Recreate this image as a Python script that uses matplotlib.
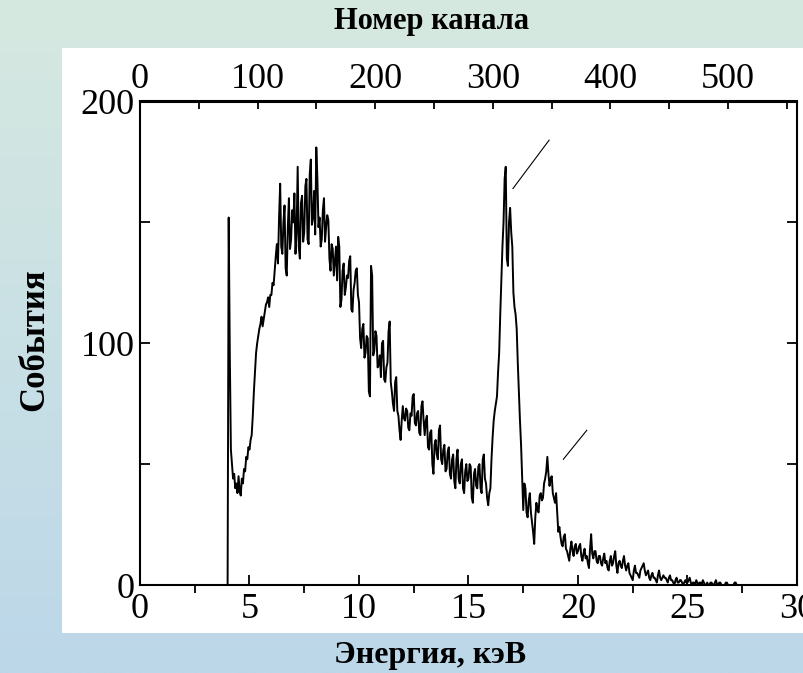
import numpy as np
import matplotlib
matplotlib.use("Agg")
import matplotlib.pyplot as plt
from matplotlib.patches import Rectangle
from matplotlib.ticker import MultipleLocator

# counts, one value every 0.05 keV starting at 4.0 keV
e_start = 4.0
e_step = 0.05
counts = [
    0, 152, 96, 56, 50, 44, 46, 40, 42, 38, 45, 39, 37, 44, 42, 48, 47, 53, 52, 57,                  # 4
    56, 60, 62, 70, 80, 88, 96, 100, 103, 106, 108, 111, 107, 110, 113, 116, 117, 119, 115, 120,     # 5
    120, 125, 124, 130, 136, 141, 133, 152, 166, 140, 137, 150, 157, 131, 128, 148, 160, 139, 143, 155,  # 6
    150, 162, 137, 146, 173, 140, 135, 158, 161, 142, 146, 165, 168, 143, 141, 170, 176, 149, 152, 163,  # 7
    145, 181, 168, 148, 152, 140, 143, 155, 160, 142, 148, 153, 151, 135, 130, 141, 139, 128, 134, 140,  # 8
    126, 144, 140, 115, 118, 130, 133, 120, 123, 128, 127, 134, 136, 114, 113, 122, 125, 130, 131, 120,  # 9
    117, 102, 98, 106, 108, 94, 96, 103, 102, 80, 78, 132, 128, 95, 97, 105, 103, 90, 91, 95,        # 10
    86, 100, 101, 85, 84, 90, 92, 105, 109, 84, 80, 75, 72, 84, 86, 72, 70, 64, 60, 68,              # 11
    74, 69, 68, 73, 72, 65, 64, 71, 70, 78, 79, 67, 66, 71, 72, 63, 62, 74, 76, 68,                  # 12
    62, 68, 70, 57, 56, 63, 64, 50, 46, 58, 60, 54, 52, 64, 66, 52, 50, 56, 58, 47,                  # 13
    48, 55, 57, 46, 44, 52, 54, 43, 40, 52, 56, 44, 42, 50, 52, 40, 38, 47, 50, 43,                  # 14
    44, 50, 49, 36, 34, 46, 48, 41, 40, 49, 50, 40, 38, 52, 54, 44, 42, 36, 33, 38,                  # 15
    40, 52, 61, 68, 72, 75, 78, 88, 96, 112, 126, 140, 150, 168, 173, 135, 132, 150, 156, 146,       # 16
    140, 121, 115, 112, 106, 92, 80, 68, 58, 44, 31, 42, 40, 30, 28, 35, 38, 30, 26, 22,             # 17
    17, 28, 34, 31, 30, 37, 38, 35, 36, 42, 44, 47, 53, 46, 41, 44, 45, 38, 36, 34,                  # 18
    38, 30, 22, 24, 20, 17, 16, 20, 21, 15, 14, 12, 10, 15, 18, 14, 12, 16, 17, 13,                  # 19
    14, 16, 17, 12, 10, 13, 15, 11, 12, 9, 7, 15, 21, 13, 11, 14, 14, 10, 9, 12,                     # 20
    12, 9, 8, 11, 13, 9, 10, 7, 6, 10, 12, 8, 9, 12, 14, 8, 5, 9, 10, 8,                             # 21
    7, 10, 12, 8, 6, 8, 9, 5, 4, 3, 2, 6, 8, 5, 5, 4, 3, 6, 7, 8,                                    # 22
    9, 6, 4, 5, 6, 3, 2, 4, 5, 3, 3, 2, 1, 4, 6, 3, 2, 3, 4, 3,                                      # 23
    3, 2, 1, 3, 4, 2, 2, 1, 0, 2, 3, 1, 1, 2, 2, 1, 0, 1, 2, 1,                                      # 24
    1, 2, 3, 1, 0, 1, 1, 0, 2, 1, 0, 1, 1, 0, 2, 1, 0, 0, 1, 0,                                      # 25
    0, 1, 1, 0, 0, 1, 2, 0, 0, 1, 1, 0, 0, 0, 0, 1, 1, 0, 0, 0,                                      # 26
    0, 0, 0, 1, 1, 0, 0,                                                                             # 27
]
energy = e_start + e_step * np.arange(len(counts))

ch_per_kev = 18.62

# two marker strokes next to the peaks
mark_x = [[17.03, 18.68], [19.33, 20.40]]
mark_y = [[164, 184], [52, 64]]

tick_font = dict(family="Liberation Serif", size=26)

fig = plt.figure(figsize=(8.04, 6.73), dpi=100)

# gradient background + white panel
bg = fig.add_axes([0, 0, 1, 1], zorder=-3)
top_c = np.array([214, 233, 224]) / 255
bot_c = np.array([188, 215, 233]) / 255
t = np.linspace(0, 1, 256)[:, None]
grad = top_c[None, :] * (1 - t) + bot_c[None, :] * t
bg.imshow(grad[:, None, :], aspect="auto", extent=[0, 1, 0, 1])
bg.axis("off")
fig.add_artist(Rectangle((62 / 804, 1 - 633 / 673), (804 - 62) / 804, (633 - 48) / 673,
                         transform=fig.transFigure, facecolor="white",
                         edgecolor="none", zorder=-2))

ax = fig.add_axes([140 / 804, 1 - 585 / 673, 657 / 804, 483.5 / 673])
ax.plot(energy, counts, color="black", lw=1.4)
for xs, ys in zip(mark_x, mark_y):
    ax.plot(xs, ys, color="black", lw=0.8)

ax.set_xlim(0, 30)
ax.set_ylim(0, 200)
for s in ax.spines.values():
    s.set_linewidth(1.5)

ax.xaxis.set_major_locator(MultipleLocator(5))
ax.xaxis.set_minor_locator(MultipleLocator(2.5))
ax.yaxis.set_major_locator(MultipleLocator(100))
ax.yaxis.set_minor_locator(MultipleLocator(50))
ax.tick_params(axis="x", which="major", direction="in", top=False, length=7, width=1.3, pad=6)
ax.tick_params(axis="x", which="minor", direction="out", top=False, length=6, width=1.3)
ax.tick_params(axis="y", which="both", direction="in", left=True, right=True,
               length=7, width=1.3, pad=4)
for lab in ax.get_xticklabels() + ax.get_yticklabels():
    lab.set_fontfamily(tick_font["family"])
    lab.set_fontsize(tick_font["size"])

top = ax.secondary_xaxis("top", functions=(lambda e: e * ch_per_kev, lambda c: c / ch_per_kev))
top.xaxis.set_minor_locator(MultipleLocator(50))
top.tick_params(which="both", direction="in", length=6, width=1.3, pad=4)
top.spines["top"].set_linewidth(1.5)
top.set_xticks([0, 100, 200, 300, 400, 500])
top.set_xticklabels(["0", "100", "200", "300", "400", "500"], **tick_font)

fig.text(432 / 804, 1 - 22 / 673, "Номер канала", ha="center", va="center",
         family="Liberation Serif", size=22, weight="bold")
fig.text(430 / 804, 1 - 655 / 673, "Энергия, кэВ", ha="center", va="center",
         family="Liberation Serif", size=23, weight="bold")
fig.text(35 / 804, 1 - 340 / 673, "События", ha="center", va="center", rotation=90,
         family="Liberation Serif", size=25, weight="bold")

fig.savefig("out.png", dpi=100)
